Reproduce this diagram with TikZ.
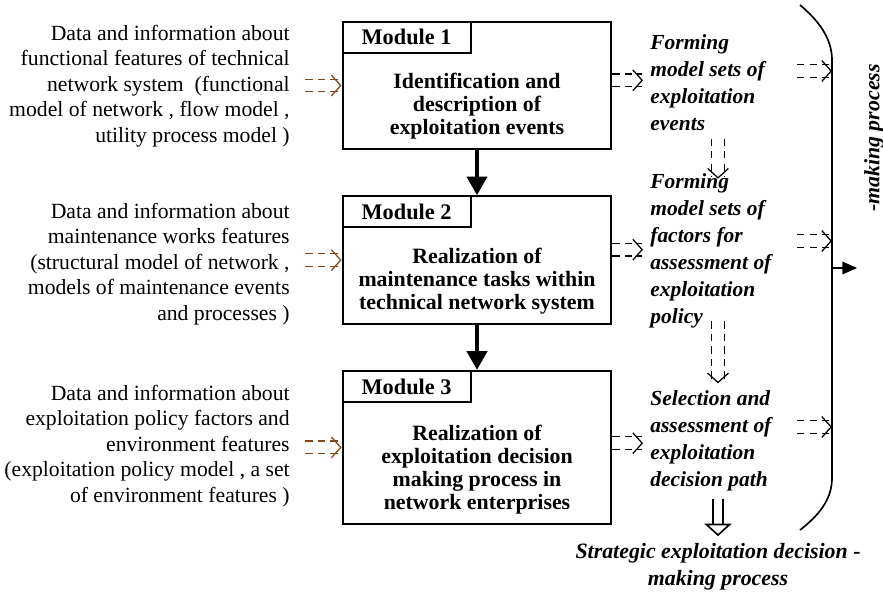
\documentclass[tikz,border=0pt]{standalone}
\usepackage{fontspec}
\setmainfont{Liberation Serif}
\usetikzlibrary{arrows.meta, positioning}
\definecolor{datbrown}{RGB}{135,70,25}

\begin{document}
\begin{tikzpicture}[
  x=0.48pt, y=-0.48pt,
  node distance=21.6pt,
  modbox/.style={rectangle, draw, line width=1pt, minimum width=129pt,
                 minimum height=61.2pt},
  tag/.style={rectangle, draw, line width=1pt, anchor=north west,
              minimum width=61.4pt, minimum height=14.9pt,
              font=\fontsize{10.7}{12}\selectfont\bfseries},
  body/.style={align=center, font=\fontsize{10.5}{11}\selectfont\bfseries},
  info/.style={anchor=east, align=right, font=\fontsize{10.4}{12.2}\selectfont},
  result/.style={anchor=west, align=left,
                 font=\fontsize{10.3}{13}\selectfont\bfseries\itshape},
  modarrow/.style={-{Triangle[width=9.6pt, length=9pt]}, line width=2pt},
  datarrow/.style={-{Straight Barb[length=4.5pt, width=10pt, line width=0.6pt]},
                   datbrown, dash pattern=on 3.5pt off 2.5pt,
                   double, double distance=5.5pt, line width=0.6pt},
  flowarrow/.style={-{Straight Barb[length=4.5pt, width=10pt, line width=0.6pt]},
                    dash pattern=on 3.5pt off 2.5pt,
                    double, double distance=5.5pt, line width=0.6pt},
  hollow/.style={-{Triangle[open, length=6pt, width=13pt, line width=0.8pt]},
                 double, double distance=4pt, line width=0.8pt},
  outarrow/.style={-{Triangle[width=6pt, length=7pt]}, line width=0.8pt}
]
\useasboundingbox (0,0) rectangle (883,597);

% Modules (centre column)
\node[modbox] (mod1) at (477,85.5) {};
\node[modbox, below=of mod1] (mod2) {};
\node[modbox, below=of mod2, minimum height=73.4pt] (mod3) {};

\node[tag] (tag1) at (mod1.north west) {Module 1};
\node[tag] (tag2) at (mod2.north west) {Module 2};
\node[tag] (tag3) at (mod3.north west) {Module 3};

\node[body, yshift=-10pt] (txt1) at (mod1.center)
  {Identification and\\ description of\\ exploitation events};
\node[body, yshift=-10pt] (txt2) at (mod2.center)
  {Realization of\\ maintenance tasks within\\ technical network system};
\node[body, yshift=-10.8pt] (txt3) at (mod3.center)
  {Realization of\\ exploitation decision\\ making process in\\ network enterprises};

\draw[modarrow] (mod1) -- (mod2);
\draw[modarrow] (mod2) -- (mod3);

% Input data (left column)
\node[info] (inf1) at (297,86)
  {Data and information about\\ functional features of technical~\\
   network system \ (functional\\ model of network , flow model ,\\
   utility process model )};
\node[info] (inf2) at (297,264)
  {Data and information about\\ maintenance works features~\\
   (structural model of network ,\\ models of maintenance events~\\
   and processes )};
\node[info] (inf3) at (297,446)
  {Data and information about\\ exploitation policy factors and~\\
   environment features\\ (exploitation policy model , a set\\
   of environment features )};

\draw[datarrow, shorten <=4pt] (inf1.east |- mod1.west) -- (mod1.west);
\draw[datarrow, shorten <=4pt] (inf2.east |- mod2.west) -- (mod2.west);
\draw[datarrow, shorten <=4pt] (inf3.east |- mod3.west) -- (mod3.west);

% Results (right column)
\node[result] (set1) at (643,83)
  {Forming\\ model sets of\\ exploitation\\ events};
\node[result] (set2) at (643,251)
  {Forming\\ model sets of\\ factors for\\ assessment of\\ exploitation\\ policy};
\node[result] (sel) at (643,441)
  {Selection and\\ assessment of\\ exploitation\\ decision path};
\node[align=center, font=\fontsize{10.5}{13}\selectfont\bfseries\itshape]
  (strat) at (718,567) {Strategic exploitation decision -\\ making process};

\draw[flowarrow] ([yshift=2.5pt]mod1.east) -- ([yshift=2.5pt]mod1.east -| set1.west);
\draw[flowarrow] ([yshift=5pt]mod2.east) -- ([yshift=5pt]mod2.east -| set2.west);
\draw[flowarrow] ([yshift=2pt]mod3.east) -- ([yshift=2pt]mod3.east -| sel.west);

\draw[flowarrow, shorten >=-6pt] (set1.south -| strat) -- (set2.north -| strat);
\draw[flowarrow, shorten <=-7pt] (set2.south -| strat) -- (sel.north -| strat);
\draw[hollow] (sel.south -| strat) -- (strat.north);

% Bracket and output
\coordinate (brk) at (832,268);
\coordinate (out) at (857,268);
\coordinate (f1) at (797,71);
\coordinate (f2) at (797,241);
\coordinate (f3) at (797,427);
\draw[line width=0.8pt] (800,5) .. controls (818,20) and (832,38) .. (832,60)
  -- (832,478) .. controls (832,500) and (818,516) .. (800,530);
\draw[flowarrow] (f1) -- (f1 -| brk);
\draw[flowarrow] (f2) -- (f2 -| brk);
\draw[flowarrow] (f3) -- (f3 -| brk);
\draw[outarrow] (brk) -- (out);
\node[rotate=90, font=\fontsize{10.5}{12}\selectfont\bfseries\itshape]
  (mk) at (874,138) {-making process};

\end{tikzpicture}
\end{document}
